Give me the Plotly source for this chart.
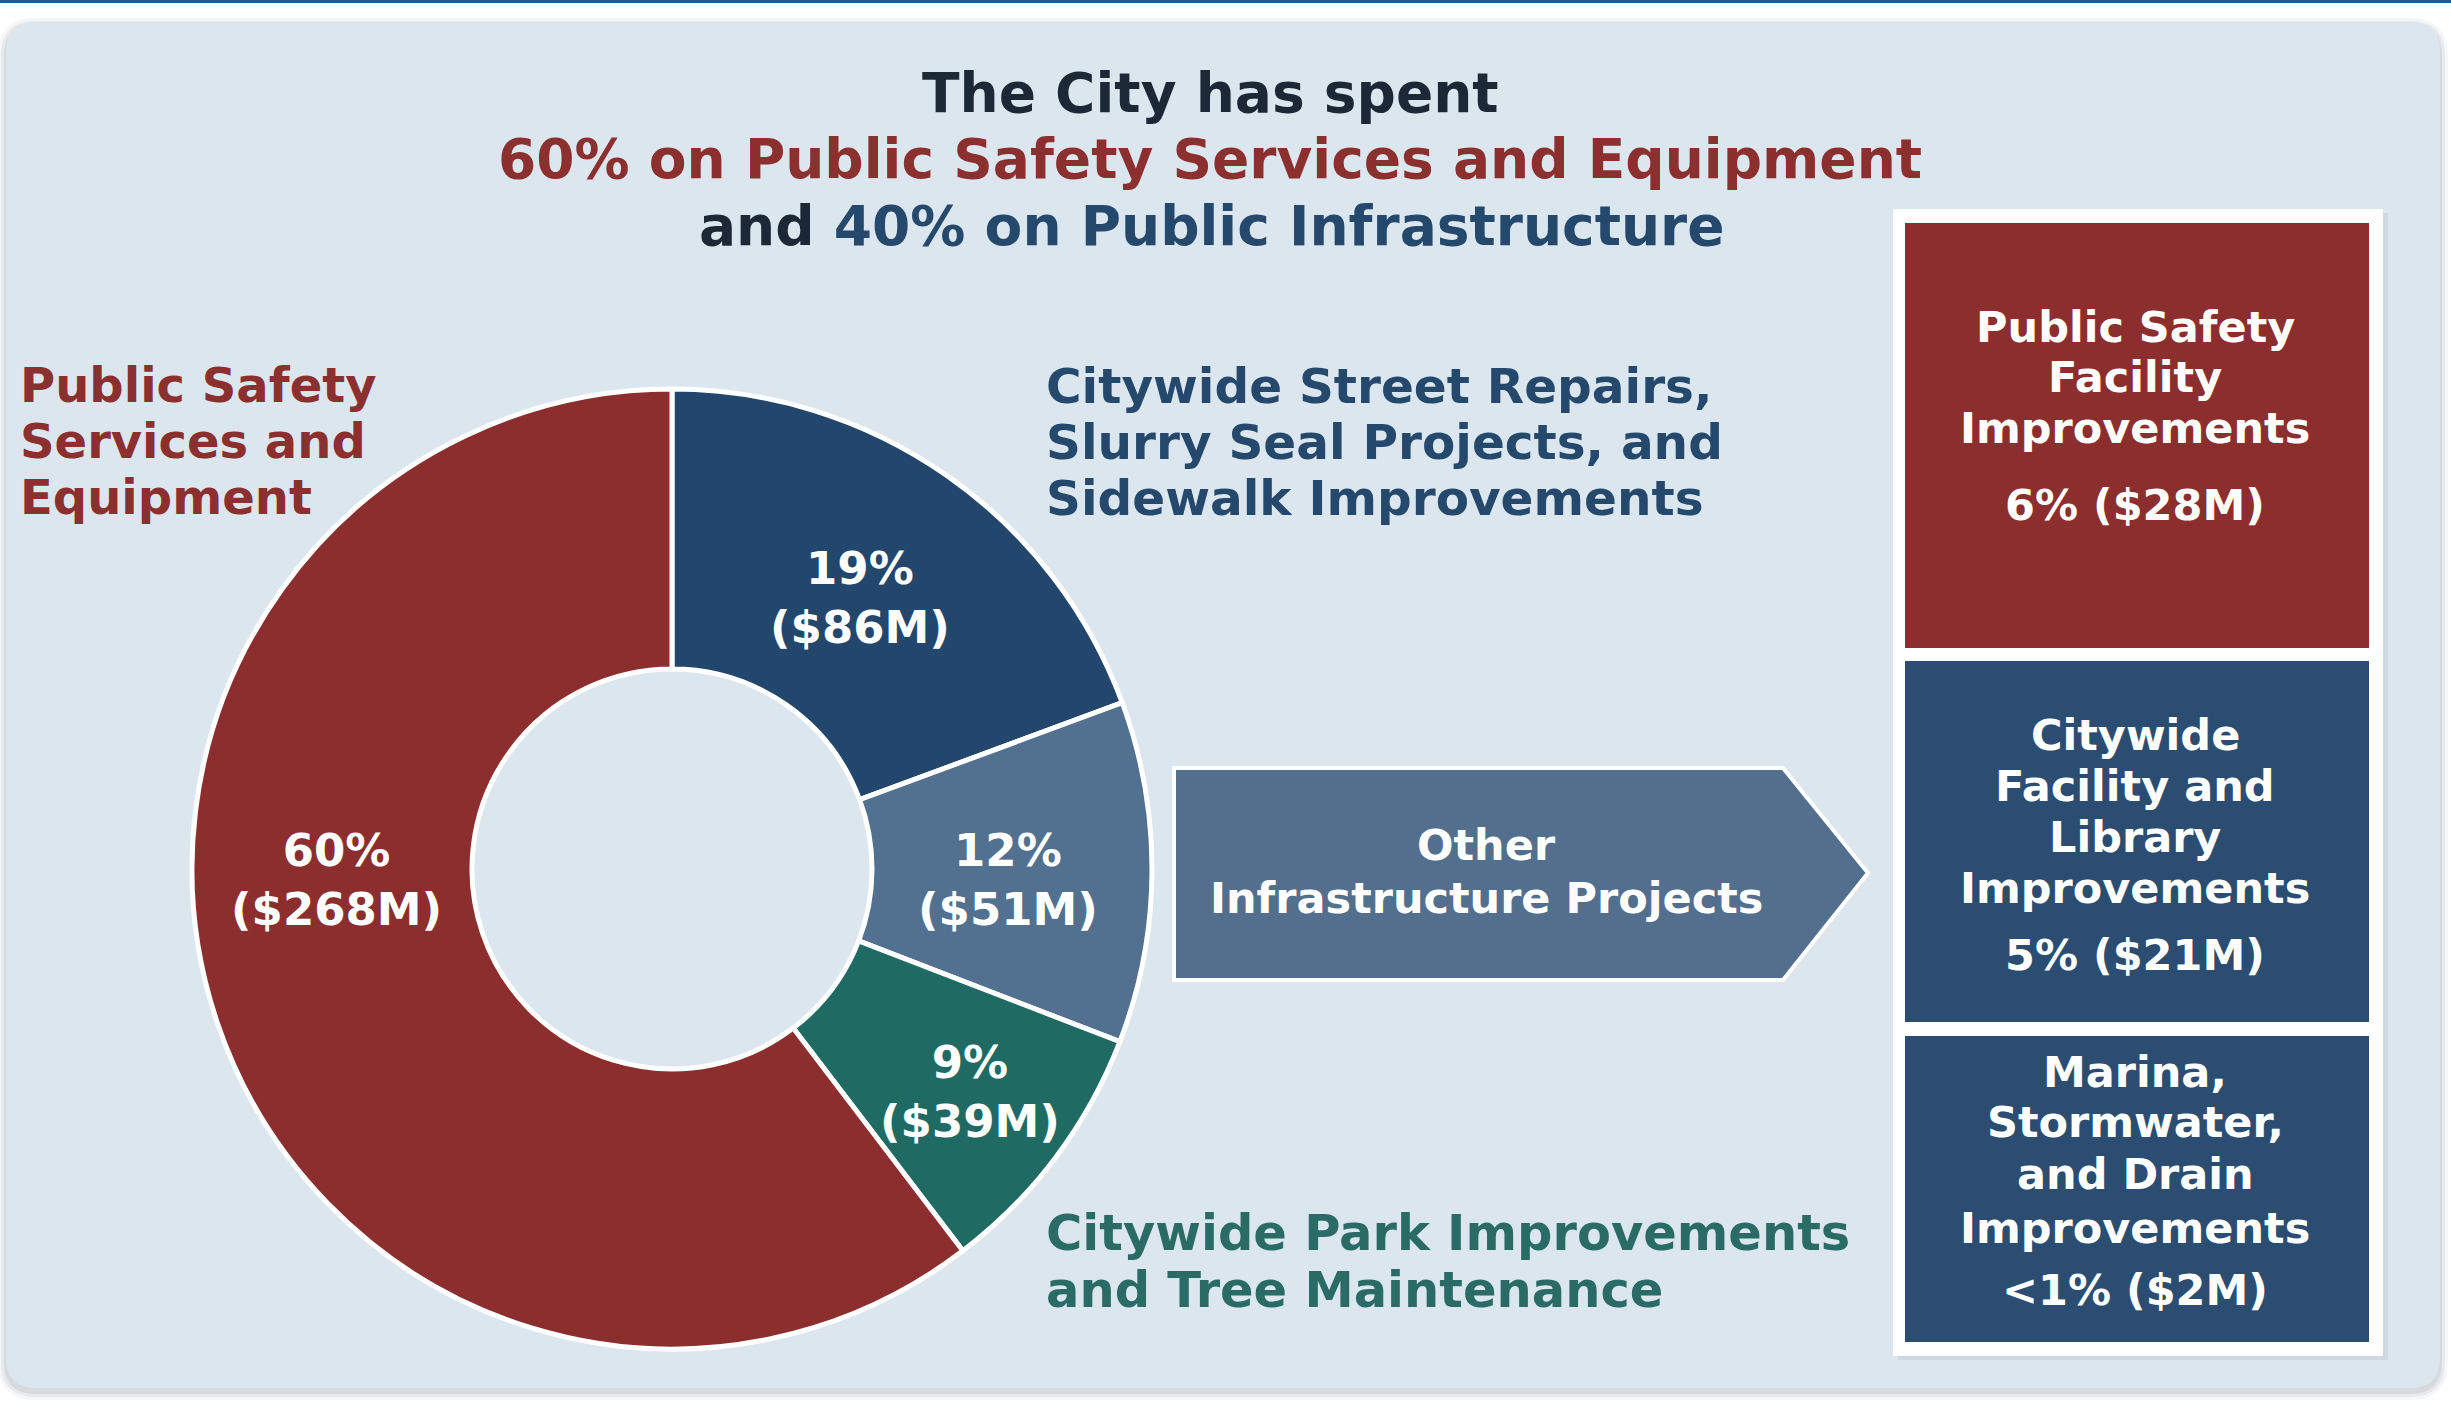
import plotly.graph_objects as go

W, H = 2451, 1411
FONT = "DejaVu Sans"

# ---- data -------------------------------------------------------------
# Donut slices, listed clockwise from 12 o'clock
slice_names = [
    "Citywide Street Repairs, Slurry Seal Projects, and Sidewalk Improvements",
    "Other Infrastructure Projects",
    "Citywide Park Improvements and Tree Maintenance",
    "Public Safety Services and Equipment",
]
slice_pct = ["19%", "12%", "9%", "60%"]
slice_amount_m = [86, 51, 39, 268]

# Breakdown of "Other Infrastructure Projects"
detail_lines = [
    ["Public Safety", "Facility", "Improvements"],
    ["Citywide", "Facility and", "Library", "Improvements"],
    ["Marina,", "Stormwater,", "and Drain", "Improvements"],
]
detail_pct = ["6%", "5%", "<1%"]
detail_amount_m = [28, 21, 2]

# Headline
title_top = "The City has spent"
title_safety = "60% on Public Safety Services and Equipment"
title_infra = "40% on Public Infrastructure"

# ---- styling ----------------------------------------------------------
RED = "#8c2e2d"
NAVY = "#22466c"
STEEL = "#52708f"
TEAL = "#1f6b63"
BOX_NAVY = "#2b4d71"
PANEL = "#dce6ef"
DARK_TEXT = "#1c2836"
RED_TEXT = "#8c2f2f"
NAVY_TEXT = "#25486d"
TEAL_TEXT = "#2a6b66"
slice_colors = [NAVY, STEEL, TEAL, RED]
detail_colors = [RED, BOX_NAVY, BOX_NAVY]

fig = go.Figure()

# Pixel-space canvas for panel, arrow and boxes
fig.add_trace(go.Scatter(x=[], y=[], showlegend=False, hoverinfo="skip"))

# Donut geometry (pixels): centre and outer radius
cx, cy, r_out, r_in = 672, 869, 480, 200
fig.add_trace(go.Pie(
    values=slice_amount_m,
    labels=slice_names,
    sort=False,
    direction="clockwise",
    rotation=0,
    hole=r_in / r_out,
    marker=dict(colors=slice_colors, line=dict(color="white", width=5)),
    textinfo="none",
    hoverinfo="skip",
    showlegend=False,
    domain=dict(x=[(cx - r_out) / W, (cx + r_out) / W],
                y=[(H - cy - r_out) / H, (H - cy + r_out) / H]),
))


def rounded_rect(x0, y0, x1, y1, r):
    return (f"M{x0 + r},{y0} L{x1 - r},{y0} Q{x1},{y0} {x1},{y0 + r} "
            f"L{x1},{y1 - r} Q{x1},{y1} {x1 - r},{y1} L{x0 + r},{y1} "
            f"Q{x0},{y1} {x0},{y1 - r} L{x0},{y0 + r} Q{x0},{y0} {x0 + r},{y0} Z")


shapes = []
# soft shadow under the panel
for grow, alpha in [(8, 0.05), (5, 0.07), (2, 0.09)]:
    shapes.append(dict(type="path", xref="x", yref="y", layer="below",
                       path=rounded_rect(6 - grow, 22 - grow + 4, 2440 + grow, 1388 + grow + 4, 30 + grow),
                       fillcolor=f"rgba(60,70,90,{alpha})", line=dict(width=0)))
shapes.append(dict(type="path", xref="x", yref="y", layer="below",
                   path=rounded_rect(6, 22, 2440, 1388, 30),
                   fillcolor=PANEL, line=dict(width=0)))
# thin rule along the top edge
shapes.append(dict(type="rect", xref="x", yref="y", layer="below",
                   x0=0, x1=W, y0=0, y1=3, fillcolor="#1f5a92", line=dict(width=0)))

# arrow pointing to the breakdown boxes
shapes.append(dict(type="path", xref="x", yref="y", layer="below",
                   path="M1174,768 L1783,768 L1868,873 L1783,980 L1174,980 Z",
                   fillcolor="#536f8e", line=dict(color="white", width=4)))

# white frame and breakdown boxes
shapes.append(dict(type="rect", xref="x", yref="y", layer="below",
                   x0=1898, x1=2388, y0=213, y1=1360,
                   fillcolor="rgba(60,70,90,0.08)", line=dict(width=0)))
shapes.append(dict(type="rect", xref="x", yref="y", layer="below",
                   x0=1893, x1=2383, y0=209, y1=1356,
                   fillcolor="white", line=dict(width=0)))
box_y = [(223, 648), (661, 1022), (1036, 1342)]
for (y0, y1), col in zip(box_y, detail_colors):
    shapes.append(dict(type="rect", xref="x", yref="y", layer="below",
                       x0=1905, x1=2369, y0=y0, y1=y1,
                       fillcolor=col, line=dict(width=0)))

annotations = []


def text(x, y, s, size, color, xanchor="center"):
    annotations.append(dict(x=x, y=y, xref="x", yref="y", text=f"<b>{s}</b>",
                            showarrow=False, xanchor=xanchor, yanchor="middle",
                            font=dict(family=FONT, size=size, color=color)))


# headline
text(1210, 93, title_top, 55, DARK_TEXT)
text(1210, 159, title_safety, 55, RED_TEXT)
text(1212, 226, f"and <span style='color:{NAVY_TEXT}'>{title_infra}</span>", 55, DARK_TEXT)

# category captions around the donut
for i, line in enumerate(["Public Safety", "Services and", "Equipment"]):
    text(18, 385 + i * 56, line, 48, RED_TEXT, xanchor="left")
for i, line in enumerate(["Citywide Street Repairs,", "Slurry Seal Projects, and",
                          "Sidewalk Improvements"]):
    text(1044, 386 + i * 56, line, 48.5, NAVY_TEXT, xanchor="left")
for i, line in enumerate(["Citywide Park Improvements", "and Tree Maintenance"]):
    text(1044, 1233 + i * 57, line, 49.5, TEAL_TEXT, xanchor="left")

# value labels inside the donut slices
slice_label_xy = [(860, 598), (1008, 880), (970, 1092), (336, 880)]
for (x, y), pct, amt in zip(slice_label_xy, slice_pct, slice_amount_m):
    text(x, y, f"{pct}<br>(${amt}M)", 45, "white")

# arrow caption
text(1486, 845, "Other", 43, "white")
text(1486, 898, "Infrastructure Projects", 43, "white")

# breakdown box captions
line_y = [[327, 377, 428], [735, 786, 837, 888], [1072, 1122, 1174, 1228]]
value_y = [505, 955, 1290]
for lines, ys, vy, pct, amt in zip(detail_lines, line_y, value_y, detail_pct, detail_amount_m):
    for s, y in zip(lines, ys):
        text(2135, y, s, 43, "white")
    text(2135, vy, f"{pct} (${amt}M)", 43, "white")

fig.update_layout(
    width=W, height=H,
    margin=dict(l=0, r=0, t=0, b=0),
    paper_bgcolor="white",
    plot_bgcolor="rgba(0,0,0,0)",
    xaxis=dict(range=[0, W], visible=False, fixedrange=True, domain=[0, 1]),
    yaxis=dict(range=[H, 0], visible=False, fixedrange=True, domain=[0, 1]),
    shapes=shapes,
    annotations=annotations,
    showlegend=False,
)

fig.write_html("out.html")
